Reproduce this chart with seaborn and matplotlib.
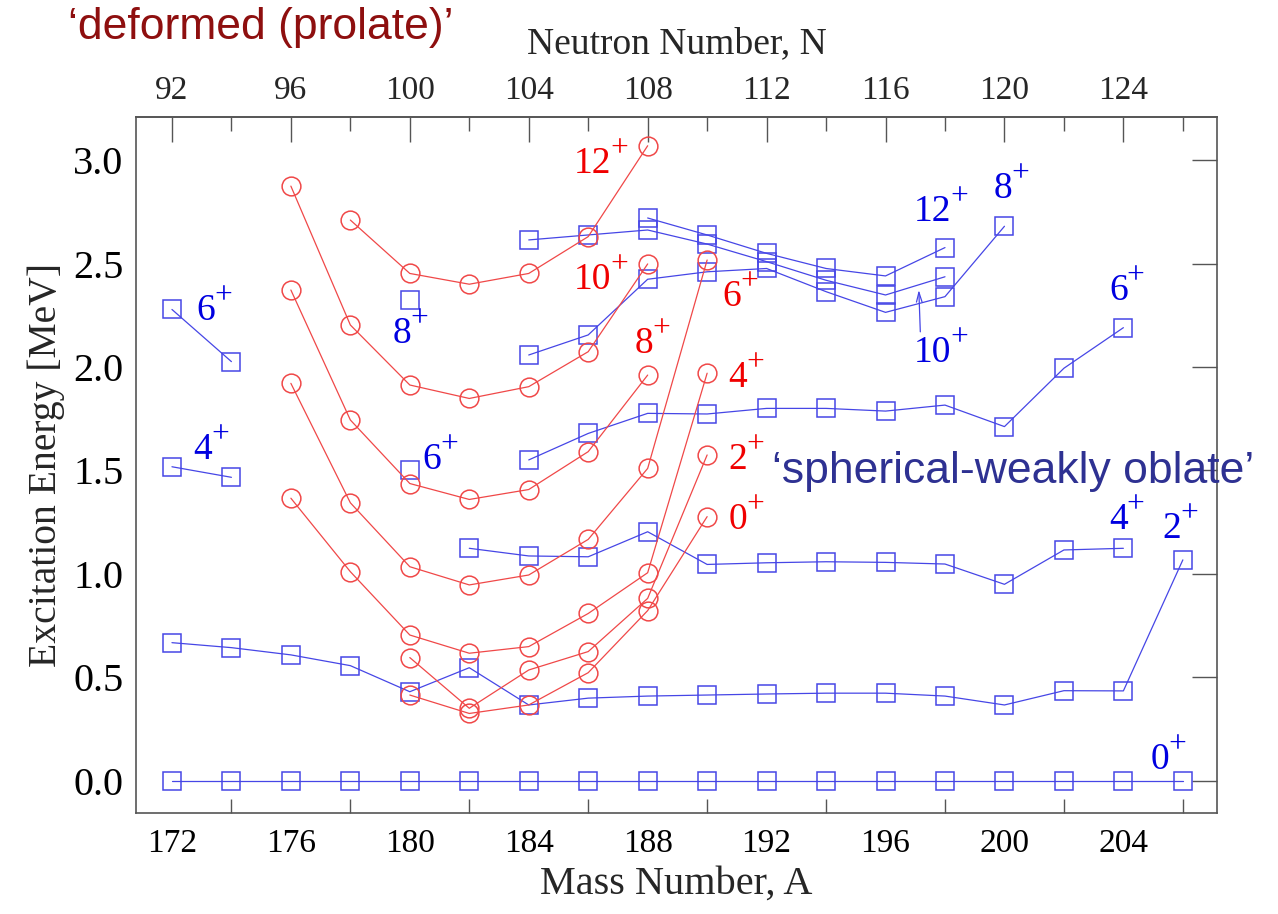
import numpy as np
import matplotlib
matplotlib.use("Agg")
import matplotlib.pyplot as plt
import seaborn as sns

# ---------------- data ----------------
mass_number = [172, 174, 176, 178, 180, 182, 184, 186, 188,
               190, 192, 194, 196, 198, 200, 202, 204, 206]
nan = np.nan

# 'spherical - weakly oblate' bands (blue squares)
blue_0 = [0.0, 0.0, 0.0, 0.0, 0.0, 0.0, 0.0, 0.0, 0.0,
          0.0, 0.0, 0.0, 0.0, 0.0, 0.0, 0.0, 0.0, 0.0]
blue_2 = [0.668, 0.644, 0.609, 0.557, 0.431, 0.547, 0.367, 0.400, 0.410,
          0.415, 0.420, 0.424, 0.424, 0.410, 0.367, 0.436, 0.435, 1.068]
blue_4 = [1.518, 1.467, nan, nan, nan, 1.124, 1.087, 1.083, 1.204,
          1.046, 1.054, 1.059, 1.056, 1.048, 0.950, 1.116, 1.124, nan]
blue_6 = [2.278, 2.026, nan, nan, 1.502, nan, 1.551, 1.679, 1.776,
          1.773, 1.800, 1.800, 1.787, 1.816, 1.712, 1.994, 2.190, nan]
blue_8 = [nan, nan, nan, nan, 2.324, nan, 2.058, 2.155, 2.424,
          2.460, 2.476, 2.364, 2.264, 2.340, 2.680, nan, nan, nan]
blue_10 = [nan, nan, nan, nan, nan, nan, 2.614, 2.638, 2.662,
           2.594, 2.509, 2.419, 2.348, 2.436, nan, nan, nan, nan]
blue_12 = [nan, nan, nan, nan, nan, nan, nan, nan, 2.720,
           2.638, 2.549, 2.476, 2.440, 2.577, nan, nan, nan, nan]

# 'deformed (prolate)' bands (red circles)
red_0 = [nan, nan, nan, nan, 0.415, 0.326, 0.367, 0.523, 0.823,
         1.277, nan, nan, nan, nan, nan, nan, nan, nan]
red_2 = [nan, nan, nan, nan, 0.596, 0.351, 0.536, 0.625, 0.882,
         1.575, nan, nan, nan, nan, nan, nan, nan, nan]
red_4 = [nan, nan, 1.366, 1.011, 0.705, 0.617, 0.649, 0.809, 1.006,
         1.970, nan, nan, nan, nan, nan, nan, nan, nan]
red_6 = [nan, nan, 1.921, 1.344, 1.035, 0.947, 0.995, 1.167, 1.510,
         2.517, nan, nan, nan, nan, nan, nan, nan, nan]
red_8 = [nan, nan, 2.372, 1.744, 1.437, 1.360, 1.408, 1.591, 1.961,
         nan, nan, nan, nan, nan, nan, nan, nan, nan]
red_10 = [nan, nan, 2.874, 2.203, 1.913, 1.848, 1.905, 2.074, 2.498,
          nan, nan, nan, nan, nan, nan, nan, nan, nan]
red_12 = [nan, nan, nan, 2.710, 2.452, 2.400, 2.452, 2.630, 3.069,
          nan, nan, nan, nan, nan, nan, nan, nan, nan]

blue_bands = [blue_0, blue_2, blue_4, blue_6, blue_8, blue_10, blue_12]
red_bands = [red_0, red_2, red_4, red_6, red_8, red_10, red_12]

# spin labels: (spin, A, E) -- centre of the "J+" label
blue_labels = [("6", 173.4, 2.27), ("4", 173.3, 1.60), ("8", 180.0, 2.16),
               ("6", 181.0, 1.55), ("12", 197.85, 2.75), ("8", 200.2, 2.86),
               ("6", 204.1, 2.37), ("4", 204.1, 1.26), ("2", 205.9, 1.22),
               ("0", 205.5, 0.10)]
red_labels = [("12", 186.4, 2.98), ("10", 186.4, 2.42), ("8", 188.15, 2.11),
              ("6", 191.1, 2.34), ("4", 191.3, 1.95), ("2", 191.3, 1.55),
              ("0", 191.3, 1.26)]
arrow_label = ("10", 197.85, 2.07)
arrow_tip = (197.12, 2.372)

x_major = [172, 176, 180, 184, 188, 192, 196, 200, 204]
x_minor = [174, 178, 182, 186, 190, 194, 198, 202, 206]
n_major = [92, 96, 100, 104, 108, 112, 116, 120, 124]
n_minor = [94, 98, 102, 106, 110, 114, 118, 122, 126]
y_major = [0.0, 0.5, 1.0, 1.5, 2.0, 2.5, 3.0]

# ---------------- style ----------------
sns.set_style("white")
plt.rcParams["font.family"] = ["Liberation Serif", "DejaVu Serif"]

BLUE_LINE = "#4646e6"
BLUE_TEXT = "#0000e0"
RED_LINE = "#f04848"
RED_TEXT = "#f00000"
SPINE = "#555555"
LABEL_FS = 27

fig = plt.figure(figsize=(12.78, 9.14), dpi=100)
ax = fig.add_axes([0.1064, 0.1105, 0.8459, 0.7615])


def segments(xs, ys):
    segs, cur = [], []
    for a, e in zip(xs, ys):
        if e is None or np.isnan(e):
            if cur:
                segs.append(cur)
            cur = []
        else:
            cur.append((a, e))
    if cur:
        segs.append(cur)
    return segs


def draw_band(values, color, marker):
    for seg in segments(mass_number, values):
        xs = [p[0] for p in seg]
        ys = [p[1] for p in seg]
        sns.lineplot(x=xs, y=ys, ax=ax, color=color, marker=marker,
                     markersize=13.5, markerfacecolor="none",
                     markeredgecolor=color, markeredgewidth=1.1,
                     linewidth=0.9, legend=False, sort=False)


def spin_label(spin, a, e, color, fs=LABEL_FS):
    w_dig = 0.5 * fs * len(spin)
    pfs = 0.84 * fs
    w_plus = 0.5 * pfs
    left = -(w_dig + w_plus) / 2.0
    ax.annotate(spin, (a, e), xytext=(left, 0), textcoords="offset points",
                ha="left", va="center", fontsize=fs, color=color)
    ax.annotate("+", (a, e), xytext=(left + w_dig + w_plus / 2.0, 0.40 * fs),
                textcoords="offset points", ha="center", va="center",
                fontsize=pfs, color=color)


for band in blue_bands:
    draw_band(band, BLUE_LINE, "s")
for band in red_bands:
    draw_band(band, RED_LINE, "o")

for spin, a, e in blue_labels:
    spin_label(spin, a, e, BLUE_TEXT)
for spin, a, e in red_labels:
    spin_label(spin, a, e, RED_TEXT)

spin_label(arrow_label[0], arrow_label[1], arrow_label[2], BLUE_TEXT)
ax.annotate("", xy=arrow_tip, xytext=(197.17, 2.17),
            arrowprops=dict(arrowstyle="->,head_length=0.7,head_width=0.2",
                            color=BLUE_LINE, lw=0.9, shrinkA=0, shrinkB=0))

# axes limits and ticks
ax.set_xlim(170.79, 207.15)
ax.set_ylim(-0.155, 3.208)
ax.set_xticks(x_major)
ax.set_xticks(x_minor, minor=True)
ax.set_yticks(y_major)
ax.set_yticklabels(["%.1f" % v for v in y_major])
ax.tick_params(axis="both", which="major", direction="in", length=18,
               width=1.0, color=SPINE, labelsize=24, pad=11,
               top=False, right=True, labelcolor="black")
ax.tick_params(axis="x", which="minor", direction="in", length=10,
               width=1.0, color=SPINE, bottom=True, top=False)
ax.tick_params(axis="y", which="major", pad=9, labelsize=29)
for sp in ax.spines.values():
    sp.set_color(SPINE)
    sp.set_linewidth(1.2)
    sp.set_visible(True)

ax.set_xlabel("Mass Number, A", fontsize=29, labelpad=5)
ax.set_ylabel("Excitation Energy [MeV]", fontsize=28.5, labelpad=6)

sec = ax.secondary_xaxis("top", functions=(lambda a: a - 80, lambda n: n + 80))
sec.set_xticks(n_major)
sec.set_xticks(n_minor, minor=True)
sec.tick_params(axis="x", which="major", direction="in", length=18,
                width=1.0, color=SPINE, labelsize=24, pad=8)
sec.tick_params(axis="x", which="minor", direction="in", length=10,
                width=1.0, color=SPINE)
sec.spines["top"].set_color(SPINE)
sec.spines["top"].set_linewidth(1.2)
sec.set_xlabel("Neutron Number, N", fontsize=27, labelpad=16)

# region captions
fig.text(68 / 1278, 1 - 27 / 914, "\u2018deformed (prolate)\u2019",
         family=["Liberation Sans", "DejaVu Sans"], fontsize=32,
         color="#8e0f0f", ha="left", va="center")
fig.text(772 / 1278, 1 - 472 / 914, "\u2018spherical-weakly oblate\u2019",
         family=["Liberation Sans", "DejaVu Sans"], fontsize=32,
         color="#2e3192", ha="left", va="center", zorder=10)

fig.savefig("out.png", dpi=100, facecolor="white")
